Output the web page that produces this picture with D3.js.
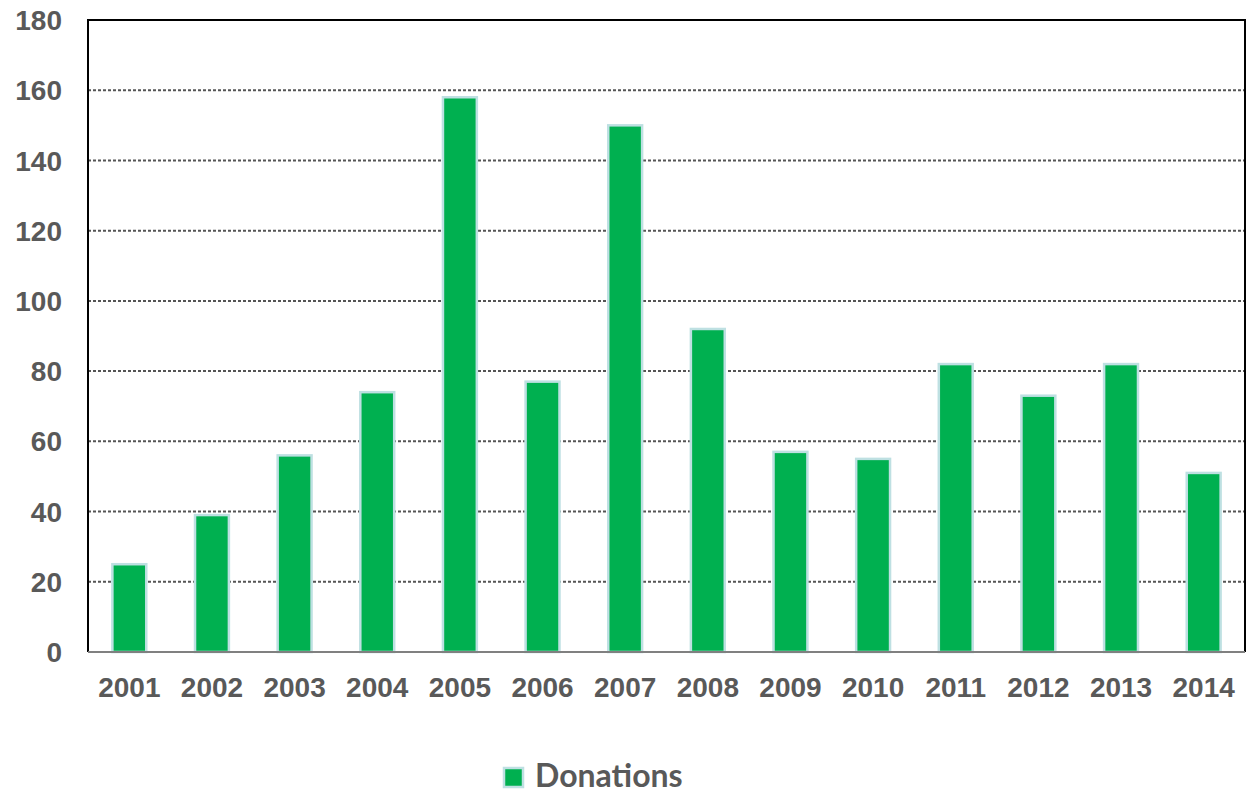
<!DOCTYPE html>
<html>
<head>
<meta charset="utf-8">
<script src="https://cdn.jsdelivr.net/npm/d3@7"></script>
<style>
  body { margin: 0; background: #fff; }
  svg { display: block; }
</style>
</head>
<body>
<svg id="chart" width="1249" height="794"></svg>
<script>
const years = ["2001", "2002", "2003", "2004", "2005", "2006", "2007", "2008", "2009", "2010", "2011", "2012", "2013", "2014"];
const donations = [25, 39, 56, 74, 158, 77, 150, 92, 57, 55, 82, 73, 82, 51];
const yTicks = [0, 20, 40, 60, 80, 100, 120, 140, 160, 180];
const seriesName = "Donations";

const svg = d3.select("#chart");
const plotLeft = 88, plotRight = 1245, plotTop = 20, plotBottom = 652;

const x = d3.scaleBand()
    .domain(years)
    .range([plotLeft, plotRight])
    .paddingInner(0.59)
    .paddingOuter(0.295);

const y = d3.scaleLinear()
    .domain([0, 180])
    .range([plotBottom, plotTop]);

// dotted gridlines
svg.append("g")
    .selectAll("line")
    .data(yTicks.filter(d => d > 0 && d < 180))
    .enter()
    .append("line")
    .attr("x1", plotLeft)
    .attr("x2", plotRight)
    .attr("y1", d => y(d))
    .attr("y2", d => y(d))
    .attr("stroke", "#555")
    .attr("stroke-width", 2)
    .attr("stroke-dasharray", "3,2");

// bars
svg.append("g")
    .selectAll("rect")
    .data(donations)
    .enter()
    .append("rect")
    .attr("x", (d, i) => x(years[i]))
    .attr("y", d => y(d))
    .attr("width", x.bandwidth())
    .attr("height", d => plotBottom - y(d))
    .attr("fill", "#00B050")
    .attr("stroke", "#BEE0E2")
    .attr("stroke-width", 2.5);

// frame: left, top, right in black, bottom axis grey
svg.append("path")
    .attr("d", `M${plotLeft},${plotBottom}V${plotTop}H${plotRight}V${plotBottom}`)
    .attr("fill", "none")
    .attr("stroke", "#000")
    .attr("stroke-width", 2);

svg.append("line")
    .attr("x1", plotLeft)
    .attr("x2", plotRight)
    .attr("y1", plotBottom)
    .attr("y2", plotBottom)
    .attr("stroke", "#808080")
    .attr("stroke-width", 2);

// y tick labels
svg.append("g")
    .selectAll("text")
    .data(yTicks)
    .enter()
    .append("text")
    .attr("x", 62)
    .attr("y", d => y(d))
    .attr("dy", "0.36em")
    .attr("text-anchor", "end")
    .attr("font-family", "Liberation Sans, Arial, sans-serif")
    .attr("font-weight", "bold")
    .attr("font-size", 28)
    .attr("fill", "#595959")
    .text(d => d);

// x tick labels
svg.append("g")
    .selectAll("text")
    .data(years)
    .enter()
    .append("text")
    .attr("x", d => x(d) + x.bandwidth() / 2)
    .attr("y", 697)
    .attr("text-anchor", "middle")
    .attr("font-family", "Liberation Sans, Arial, sans-serif")
    .attr("font-weight", "bold")
    .attr("font-size", 28)
    .attr("fill", "#595959")
    .text(d => d);

// legend
const legend = svg.append("g");
legend.append("rect")
    .attr("x", 504)
    .attr("y", 768)
    .attr("width", 19)
    .attr("height", 19)
    .attr("fill", "#00B050")
    .attr("stroke", "#BEE0E2")
    .attr("stroke-width", 2.5);

legend.append("text")
    .attr("x", 535)
    .attr("y", 787)
    .attr("font-family", "Lato, Open Sans, sans-serif")
    .attr("font-weight", "bold")
    .attr("font-size", 32)
    .attr("fill", "#595959")
    .text(seriesName);
</script>
</body>
</html>
